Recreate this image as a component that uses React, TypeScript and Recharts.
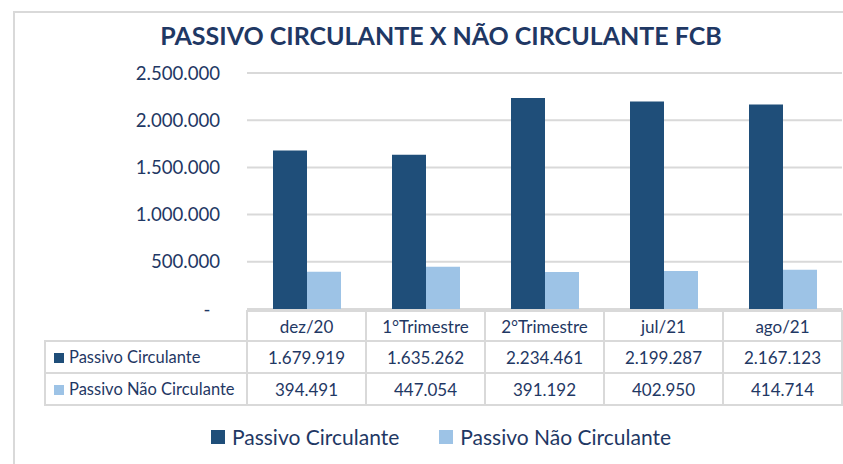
import { Bar, BarChart, CartesianGrid, Legend, XAxis, YAxis } from "recharts";

const categories = ["dez/20", "1°Trimestre", "2°Trimestre", "jul/21", "ago/21"];
const passivoCirculante = [1679919, 1635262, 2234461, 2199287, 2167123];
const passivoNaoCirculante = [394491, 447054, 391192, 402950, 414714];
const yTicks = [0, 500000, 1000000, 1500000, 2000000, 2500000];
const seriesNames = ["Passivo Circulante", "Passivo Não Circulante"];
const seriesColors = ["#1f4e79", "#9dc3e6"];

const W = 843;
const H = 464;
const PLOT_LEFT = 247;
const PLOT_TOP = 73;
const PLOT_BOTTOM = 309;
const PLOT_RIGHT = 842;
const COL_W = (PLOT_RIGHT - PLOT_LEFT) / categories.length;
const LABEL_LEFT = 45;
const TEXT = "#1f3864";
const GRID = "#d9d9d9";
const FONT = 'Lato, "Open Sans", sans-serif';

// formato pt-BR: separador de milhar com ponto
const fmt = (v: number) => String(v).replace(/\B(?=(\d{3})+(?!\d))/g, ".");
const fmtTick = (v: number) => (v === 0 ? "-\u00A0\u00A0" : fmt(v));

const data = categories.map((category, i) => ({
  category,
  circulante: passivoCirculante[i],
  naoCirculante: passivoNaoCirculante[i],
}));

const tableRows = [
  { name: seriesNames[0], color: seriesColors[0], values: passivoCirculante },
  { name: seriesNames[1], color: seriesColors[1], values: passivoNaoCirculante },
];

const cell: React.CSSProperties = {
  border: `2px solid ${GRID}`,
  textAlign: "center",
  padding: 0,
  whiteSpace: "nowrap",
  fontSize: 17,
  fontFamily: FONT,
  color: TEXT,
};

function renderLegend(props: any) {
  const { payload = [] } = props;
  return (
    <div style={{ display: "flex", justifyContent: "center", gap: 40, fontFamily: FONT, fontSize: 21, color: TEXT }}>
      {payload.map((entry: any) => (
        <span key={entry.value} style={{ display: "flex", alignItems: "center" }}>
          <span style={{ width: 14, height: 14, background: entry.color, marginRight: 7, display: "inline-block" }} />
          {entry.value}
        </span>
      ))}
    </div>
  );
}

export default function App() {
  return (
    <div style={{ position: "absolute", left: 0, top: 0, width: W, height: H, overflow: "hidden", background: "#fff" }}>
      <div style={{ position: "absolute", left: 13, top: 11, width: 900, height: 500, border: `2px solid ${GRID}` }} />
      <div
        style={{
          position: "absolute",
          left: 0,
          top: 20,
          width: 882,
          textAlign: "center",
          fontFamily: FONT,
          fontWeight: 700,
          fontSize: 25,
          lineHeight: 1.2,
          color: TEXT,
          whiteSpace: "nowrap",
        }}
      >
        PASSIVO CIRCULANTE X NÃO CIRCULANTE FCB
      </div>
      <div style={{ position: "absolute", left: 0, top: 0 }}>
        <BarChart
          width={W}
          height={H}
          data={data}
          margin={{ top: PLOT_TOP, right: W - PLOT_RIGHT, bottom: H - PLOT_BOTTOM, left: 0 }}
          barCategoryGap={26}
          barGap={0}
        >
          <CartesianGrid vertical={false} stroke={GRID} strokeWidth={2} />
          <XAxis dataKey="category" hide />
          <YAxis
            width={PLOT_LEFT}
            domain={[0, 2500000]}
            ticks={yTicks}
            tickFormatter={fmtTick}
            axisLine={false}
            tickLine={false}
            tickSize={0}
            tickMargin={27}
            tick={{ fill: TEXT, fontSize: 18.6, fontFamily: FONT }}
          />
          <Bar dataKey="circulante" name={seriesNames[0]} fill={seriesColors[0]} isAnimationActive={false} />
          <Bar dataKey="naoCirculante" name={seriesNames[1]} fill={seriesColors[1]} isAnimationActive={false} />
          <Legend
            verticalAlign="middle"
            align="center"
            content={renderLegend}
            wrapperStyle={{ left: 0, top: 424, width: 882 }}
          />
        </BarChart>
      </div>
      <table
        style={{
          position: "absolute",
          left: LABEL_LEFT - 1,
          top: PLOT_BOTTOM + 1,
          width: PLOT_RIGHT - LABEL_LEFT + 2,
          borderCollapse: "collapse",
          tableLayout: "fixed",
        }}
      >
        <colgroup>
          <col style={{ width: PLOT_LEFT - LABEL_LEFT }} />
          {categories.map((c) => (
            <col key={c} style={{ width: COL_W }} />
          ))}
        </colgroup>
        <tbody>
          <tr style={{ height: 30 }}>
            <td style={{ border: "none", padding: 0 }} />
            {categories.map((c) => (
              <td key={c} style={cell}>
                {c}
              </td>
            ))}
          </tr>
          {tableRows.map((row) => (
            <tr key={row.name} style={{ height: 32 }}>
              <td style={{ ...cell, textAlign: "left", paddingLeft: 8, fontSize: 16.5 }}>
                <span
                  style={{ display: "inline-block", width: 10, height: 10, background: row.color, marginRight: 5 }}
                />
                {row.name}
              </td>
              {row.values.map((v, i) => (
                <td key={categories[i]} style={cell}>
                  {fmt(v)}
                </td>
              ))}
            </tr>
          ))}
        </tbody>
      </table>
    </div>
  );
}
